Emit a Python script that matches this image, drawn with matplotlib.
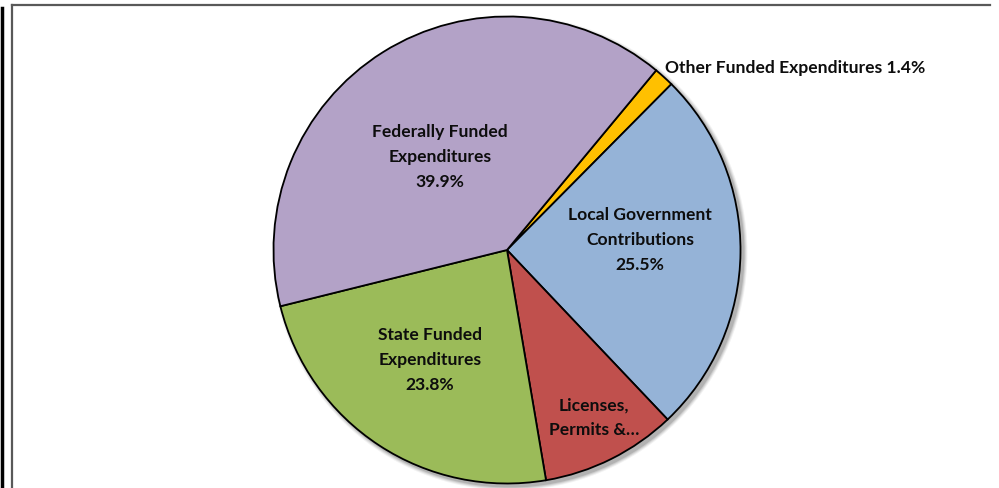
import matplotlib.pyplot as plt
from matplotlib.patches import Circle
from matplotlib.lines import Line2D

plt.rcParams['font.family'] = ['Lato', 'DejaVu Sans']

# slice data, in drawing order (clockwise from the top right)
categories = ['Other Funded Expenditures', 'Local Government Contributions',
              'Licenses, Permits & Fees', 'State Funded Expenditures',
              'Federally Funded Expenditures']
shares = [1.4, 25.5, 9.4, 23.8, 39.9]
label_texts = ['Other Funded Expenditures 1.4%',
               'Local Government\nContributions\n25.5%',
               'Licenses,\nPermits &\u2026',
               'State Funded\nExpenditures\n23.8%',
               'Federally Funded\nExpenditures\n39.9%']
colors = ['#FFC000', '#95B3D7', '#C0504D', '#9BBB59', '#B3A2C7']

W, H = 999, 489
fig = plt.figure(figsize=(W / 100, H / 100), dpi=100)
ax = fig.add_axes([0, 0, 1, 1])
ax.set_xlim(0, W)
ax.set_ylim(0, H)
ax.set_aspect('equal')
ax.axis('off')

cx, cy, r = 507, H - 251, 233.5

# soft drop shadow
for i, a in enumerate([0.05, 0.07, 0.09, 0.12]):
    ax.add_patch(Circle((cx + 3, cy - 3), r + 4 - i, color='black', alpha=a, lw=0, zorder=0))

ax.pie(shares, colors=colors, startangle=50.3, counterclock=False,
       center=(cx, cy), radius=r, frame=True,
       wedgeprops=dict(edgecolor='black', linewidth=1.3))
ax.set_xlim(0, W)
ax.set_ylim(0, H)
ax.axis('off')

# label positions in image pixels (x, y from top)
pos = [(665, 68), (640, 240), (594, 418), (430, 360), (440, 157)]
for i, (txt, (x, y)) in enumerate(zip(label_texts, pos)):
    ha = 'left' if i == 0 else 'center'
    ax.text(x, H - y, txt, ha=ha, va='center', fontsize=12.6, fontweight='bold',
            color='#0d0d0d', linespacing=1.68, zorder=5)

# chart frame
fig.add_artist(Line2D([12 / W, 990 / W], [1 - 5.5 / H, 1 - 5.5 / H], color='#595959', lw=1.6))
fig.add_artist(Line2D([12 / W, 12 / W], [0, 1 - 5.5 / H], color='#595959', lw=1.6))
fig.add_artist(Line2D([1.5 / W, 1.5 / W], [0, 1 - 9 / H], color='black', lw=2.5))

fig.savefig('out.png', dpi=100, facecolor='white')
